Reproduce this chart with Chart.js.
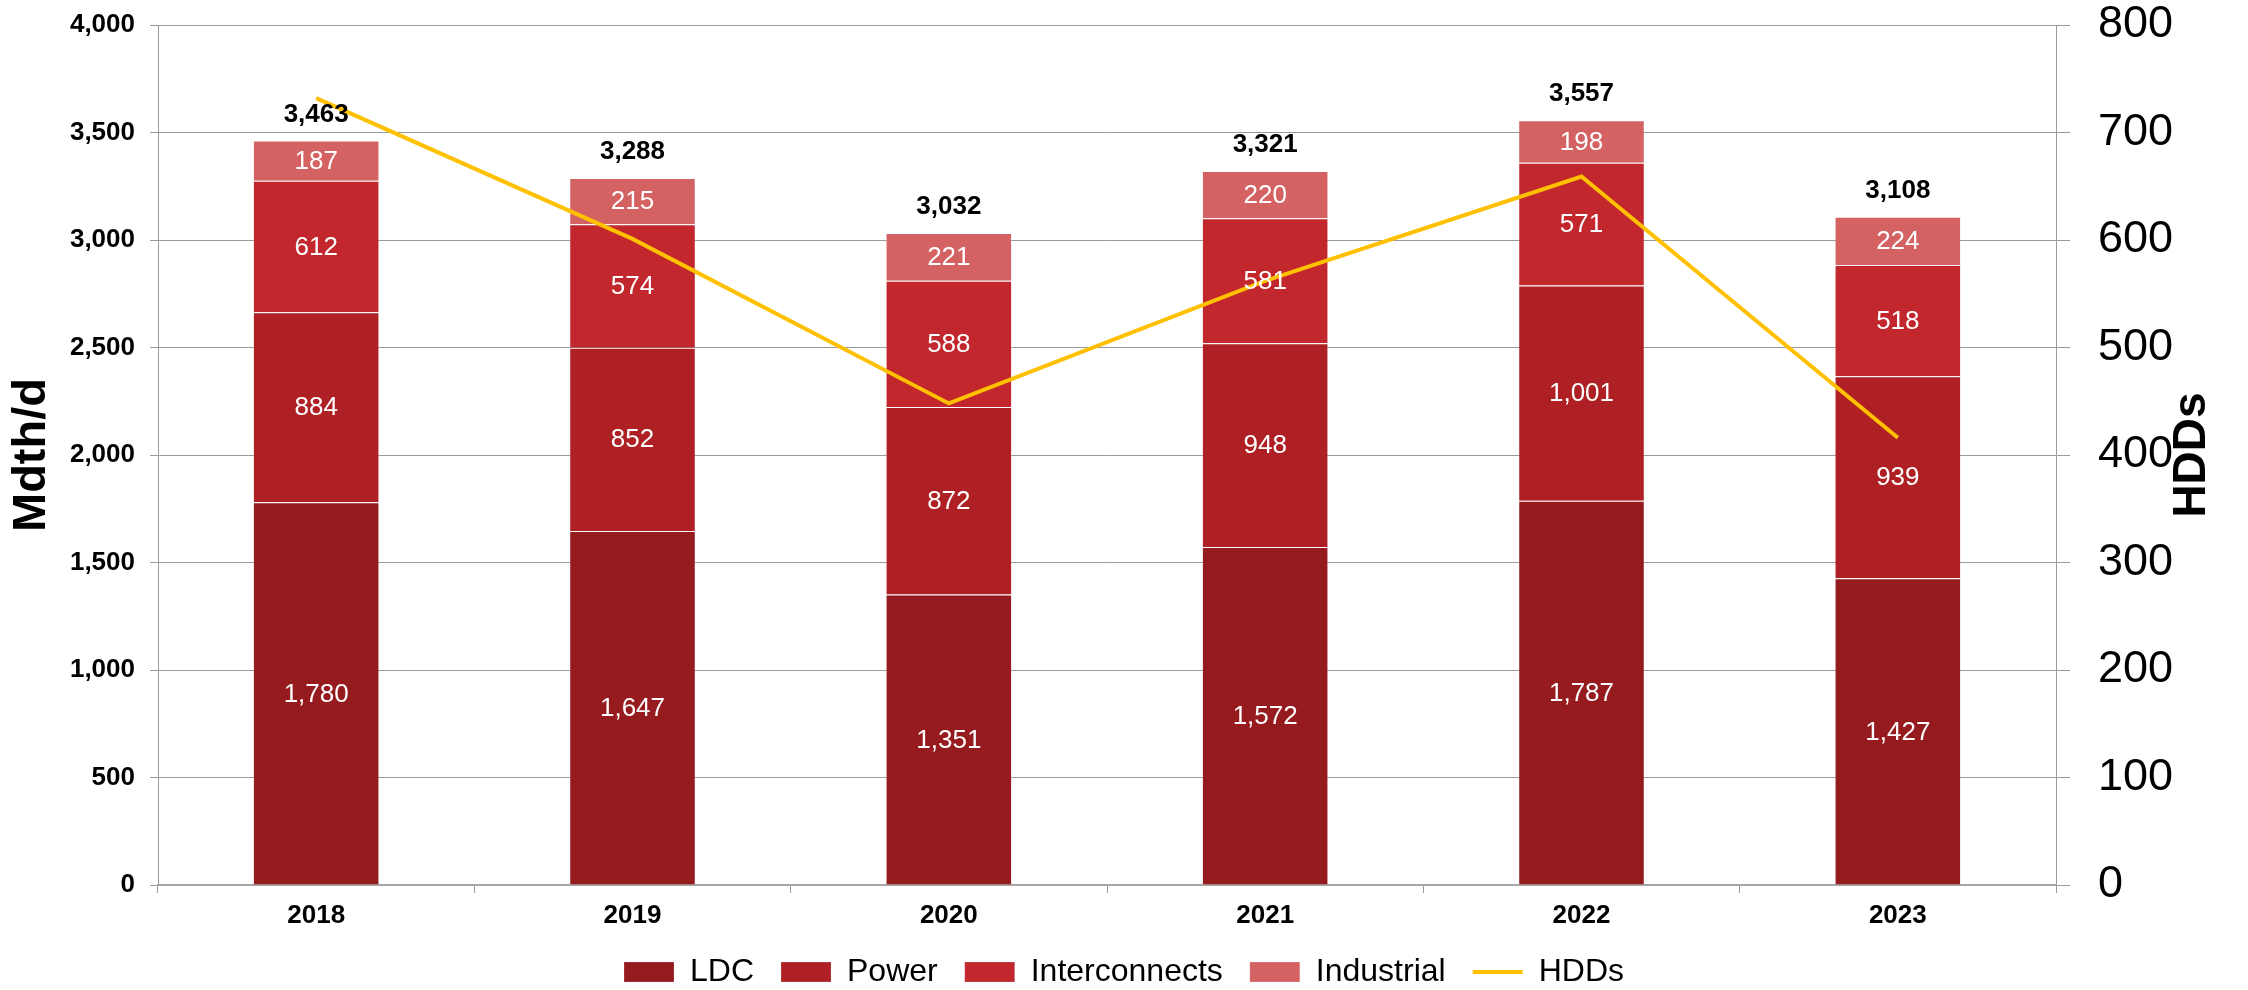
<!DOCTYPE html>
<html>
<head>
<meta charset="utf-8">
<title>Daily demand by sector and HDDs, 2018–2023</title>
<script src="https://cdn.jsdelivr.net/npm/chart.js@4/dist/chart.umd.min.js"></script>
<style>
  html, body { margin: 0; padding: 0; background: #ffffff; }
  #wrap { width: 2248px; height: 990px; }
</style>
</head>
<body>
<div id="wrap"><canvas id="chart" width="2248" height="990"></canvas></div>
<script>
// Years on the category axis
const years = ['2018', '2019', '2020', '2021', '2022', '2023'];

// Demand by sector, Mdth/d
const ldc = [1780, 1647, 1351, 1572, 1787, 1427];
const power = [884, 852, 872, 948, 1001, 939];
const interconnects = [612, 574, 588, 581, 571, 518];
const industrial = [187, 215, 221, 220, 198, 224];

// Heating degree days (right axis)
const hdds = [732, 601, 448, 562, 659, 416];

// Axis ranges
const leftTicks = { min: 0, max: 4000, step: 500 };
const rightTicks = { min: 0, max: 800, step: 100 };

const FONT = '"Liberation Sans", Arial, Helvetica, sans-serif';
const GRID = '#9a9a9a';
const fmt = v => Number(v).toLocaleString('en-US');

// Keep the plot area fixed: set the axis box size and drop the label overhang padding
const fixWidth = w => s => { s.width = w; s.paddingTop = 0; s.paddingBottom = 0; };

// White value labels inside each segment, bold totals above each stack
const valueLabels = {
  id: 'valueLabels',
  afterDatasetsDraw(chart) {
    const ctx = chart.ctx;
    ctx.save();
    ctx.textAlign = 'center';
    ctx.textBaseline = 'middle';
    const barSets = chart.data.datasets
      .map((ds, i) => ({ ds, i }))
      .filter(o => o.ds.type !== 'line');
    barSets.forEach(({ ds, i }) => {
      const meta = chart.getDatasetMeta(i);
      ctx.fillStyle = '#ffffff';
      ctx.font = '26px ' + FONT;
      meta.data.forEach((el, j) => {
        const y = (el.y + el.base) / 2;
        ctx.fillText(fmt(ds.data[j]), el.x, y + 1);
      });
    });
    // stack totals
    const topMeta = chart.getDatasetMeta(barSets[barSets.length - 1].i);
    ctx.fillStyle = '#000000';
    ctx.font = 'bold 26px ' + FONT;
    topMeta.data.forEach((el, j) => {
      const total = barSets.reduce((s, o) => s + o.ds.data[j], 0);
      ctx.fillText(fmt(total), el.x, el.y - 26);
    });
    ctx.restore();
  }
};

// Secondary axis title, reading bottom to top like the primary one
const rightTitle = {
  id: 'rightTitle',
  afterDraw(chart) {
    const ctx = chart.ctx;
    const area = chart.chartArea;
    ctx.save();
    ctx.translate(2192, (area.top + area.bottom) / 2);
    ctx.rotate(-Math.PI / 2);
    ctx.textAlign = 'center';
    ctx.textBaseline = 'middle';
    ctx.fillStyle = '#000000';
    ctx.font = 'bold 46px ' + FONT;
    ctx.fillText('HDDs', 0, 0);
    ctx.restore();
  }
};

const barStyle = {
  type: 'bar',
  yAxisID: 'y',
  stack: 'demand',
  order: 1,
  borderWidth: 1,
  borderColor: 'rgba(255,255,255,0.2)',
  pointStyle: 'rect',
  categoryPercentage: 1.0,
  barPercentage: 0.4
};

new Chart(document.getElementById('chart'), {
  data: {
    labels: years,
    datasets: [
      Object.assign({ label: 'LDC', data: ldc, backgroundColor: '#961B1F' }, barStyle),
      Object.assign({ label: 'Power', data: power, backgroundColor: '#AE2024' }, barStyle),
      Object.assign({ label: 'Interconnects', data: interconnects, backgroundColor: '#C1272D' }, barStyle),
      Object.assign({ label: 'Industrial', data: industrial, backgroundColor: '#D46263' }, barStyle),
      {
        type: 'line',
        label: 'HDDs',
        data: hdds,
        yAxisID: 'y2',
        order: 0,
        borderColor: '#FFC000',
        backgroundColor: '#FFC000',
        borderWidth: 4,
        pointRadius: 0,
        pointHoverRadius: 0,
        pointStyle: 'line',
        tension: 0,
        fill: false
      }
    ]
  },
  options: {
    responsive: false,
    animation: false,
    layout: { padding: { top: 25, left: 0, right: 0, bottom: -8 } },
    plugins: {
      tooltip: { enabled: false },
      legend: {
        position: 'bottom',
        labels: {
          usePointStyle: true,
          pointStyleWidth: 50,
          boxHeight: 20,
          padding: 27,
          color: '#000000',
          font: { family: FONT, size: 32 },
          sort: (a, b) => a.datasetIndex - b.datasetIndex
        }
      }
    },
    scales: {
      x: {
        stacked: true,
        offset: true,
        afterFit: s => { s.height = 44; },
        grid: {
          offset: true,
          drawOnChartArea: false,
          drawTicks: true,
          tickLength: 8,
          color: GRID,
          lineWidth: 1
        },
        border: { display: true, color: '#a6a6a6', width: 2 },
        ticks: {
          padding: 7,
          color: '#000000',
          font: { family: FONT, size: 26, weight: 'bold' }
        }
      },
      y: {
        position: 'left',
        stacked: true,
        min: leftTicks.min,
        max: leftTicks.max,
        afterFit: fixWidth(158),
        grid: { color: GRID, lineWidth: 1, tickLength: 8 },
        border: { display: true, color: GRID, width: 1 },
        ticks: {
          stepSize: leftTicks.step,
          padding: 15,
          color: '#000000',
          font: { family: FONT, size: 26, weight: 'bold', lineHeight: 1 },
          callback: v => fmt(v)
        },
        title: {
          display: true,
          text: 'Mdth/d',
          color: '#000000',
          padding: { top: 4, bottom: 0 },
          font: { family: FONT, size: 47, weight: 'bold' }
        }
      },
      y2: {
        position: 'right',
        min: rightTicks.min,
        max: rightTicks.max,
        afterFit: fixWidth(192),
        grid: { drawOnChartArea: false, color: GRID, lineWidth: 1, tickLength: 14 },
        border: { display: true, color: GRID, width: 1 },
        ticks: {
          stepSize: rightTicks.step,
          padding: 28,
          color: '#000000',
          font: { family: FONT, size: 45, lineHeight: 1 }
        }
      }
    }
  },
  plugins: [valueLabels, rightTitle]
});
</script>
</body>
</html>
